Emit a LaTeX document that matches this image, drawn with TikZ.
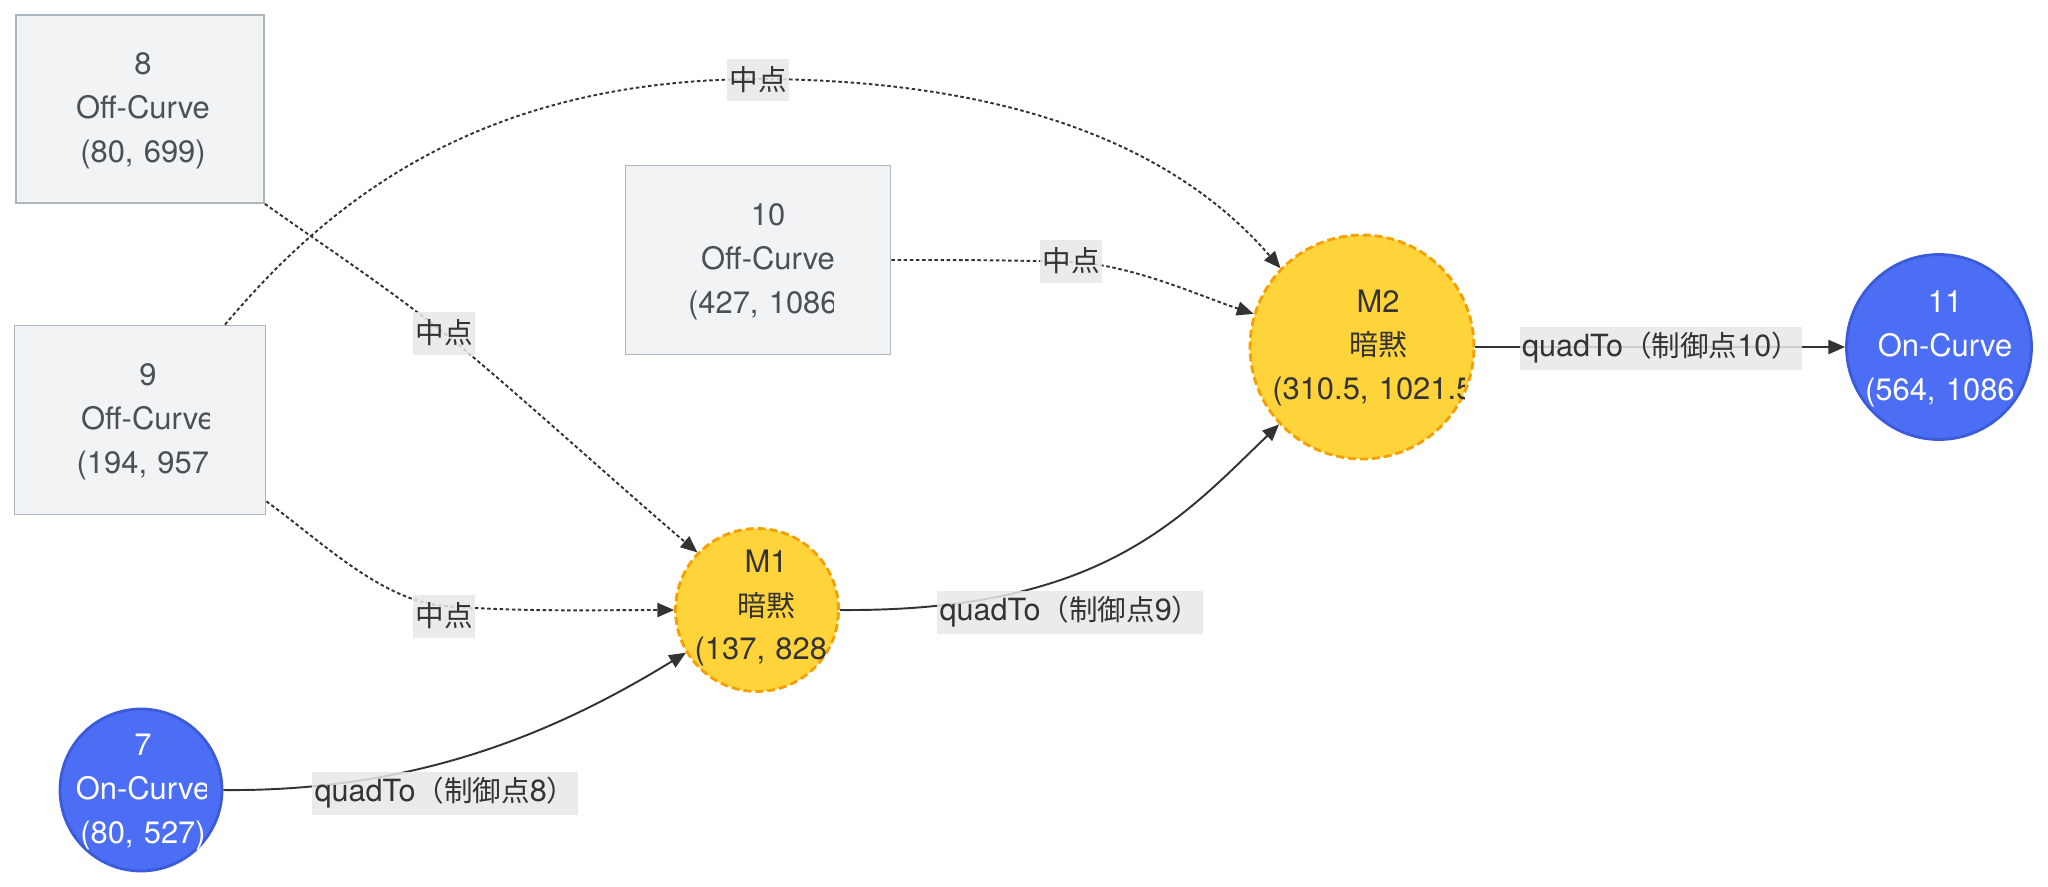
\documentclass[tikz,border=0pt]{standalone}
\usepackage{fontspec}
\setmainfont{TeX Gyre Heros}
\newfontfamily\cjk{Noto Sans CJK JP}[Scale=0.935]
\usetikzlibrary{arrows.meta,calc}
\definecolor{boxfill}{HTML}{F1F3F5}
\definecolor{boxdraw}{HTML}{ADB5BD}
\definecolor{boxtext}{HTML}{495057}
\definecolor{yel}{HTML}{FFD43B}
\definecolor{yeldraw}{HTML}{F59F00}
\definecolor{blu}{HTML}{4C6EF5}
\definecolor{bludraw}{HTML}{3B5BDB}
\definecolor{edgecol}{HTML}{333333}
\definecolor{lblbg}{HTML}{E8E8E8}
\newcommand{\cliptext}[7]{%
  \begin{scope}
    \clip (#2-#4/2,#3-90) rectangle (#5,#3+90);
    \pgfmathsetlengthmacro\tw{#4*0.02cm}
    \node[txt, text=#6, text width=\tw] (#1) at (#2,#3) {#7};
  \end{scope}}
\begin{document}
\begin{tikzpicture}[x=0.02cm,y=-0.02cm,
  txt/.style={inner sep=0pt, align=center, font=\fontsize{17.6pt}{24.9pt}\selectfont},
  offbox/.style={rectangle, fill=boxfill, draw=boxdraw, line width=1pt, inner sep=0pt},
  virt/.style={circle, fill=yel, draw=yeldraw, line width=1.6pt, dash pattern=on 4.5pt off 2.3pt, inner sep=0pt},
  oncurve/.style={circle, fill=blu, draw=bludraw, line width=1.6pt, inner sep=0pt},
  dotedge/.style={draw=edgecol, line width=1.1pt, dash pattern=on 2pt off 1.5pt, -{Triangle[length=9.5pt,width=8pt]}},
  solidedge/.style={draw=edgecol, line width=1.1pt, -{Triangle[length=9.5pt,width=8pt]}},
  lbl/.style={fill=lblbg, fill opacity=0.85, text opacity=1, text=edgecol, inner xsep=1.2pt, inner ysep=0pt, minimum height=0.86cm, font=\fontsize{17.4pt}{24.9pt}\selectfont}
]
\fill[white] (0,0) rectangle (2048,886);
\useasboundingbox (0,0) rectangle (2048,886);

% shapes
\node[offbox, minimum width=4.96cm, minimum height=3.76cm] (n8) at (140,109) {};
\node[offbox, minimum width=5.02cm, minimum height=3.78cm] (n9) at (140,420) {};
\node[offbox, minimum width=5.3cm, minimum height=3.78cm] (n10) at (758,260) {};
\node[virt, minimum size=3.26cm] (m1) at (757,610) {};
\node[virt, minimum size=4.48cm] (m2) at (1362,347) {};
\node[oncurve, minimum size=3.24cm] (n7) at (141,790) {};
\node[oncurve, minimum size=3.7cm] (n11) at (1939,347) {};

% texts (clipped as in the reference)
\cliptext{t8}{143}{111}{138}{208}{boxtext}{8\\\mbox{Off-Curve}\\\mbox{(80, 699)}}
\cliptext{t9}{148}{422}{150}{209}{boxtext}{9\\\mbox{Off-Curve}\\\mbox{(194, 957)}}
\cliptext{t10}{768}{262}{170}{833}{boxtext}{10\\\mbox{Off-Curve}\\\mbox{(427, 1086)}}
\cliptext{tm1}{766}{608}{146}{826}{edgecol}{M1\\\mbox{\cjk 暗黙}\\\mbox{(137, 828)}}
\cliptext{tm2}{1378}{348}{224}{1464}{edgecol}{M2\\\mbox{\cjk 暗黙}\\\mbox{(310.5, 1021.5)}}
\cliptext{t7}{143}{792}{136}{206}{white}{7\\\mbox{On-Curve}\\\mbox{(80, 527)}}
\cliptext{t11}{1945}{349}{168}{2013}{white}{11\\\mbox{On-Curve}\\\mbox{(564, 1086)}}

% connectors
\draw[dotedge] (n8.south east) .. controls (324,246) and (384,285) .. (444,333) .. controls (504,381) and (627,493) .. (m1.136);
\draw[dotedge] ($(n9.north)+(85,0)$) .. controls (330,200) and (480,80) .. (758,79) .. controls (1060,80) and (1200,175) .. (m2.136);
\draw[dotedge] (n10.east) .. controls (960,260) and (1010,260) .. (1071,262) .. controls (1130,264) and (1200,296) .. (m2.163);
\draw[dotedge] ($(n9.south east)+(0,-14)$) .. controls (320,540) and (380,600) .. (444,606) .. controls (520,612) and (600,610) .. (m1.west);
\draw[solidedge] (n7.east) .. controls (420,792) and (560,730) .. (m1.211);
\draw[solidedge] (m1.east) .. controls (1100,612) and (1180,520) .. (m2.223);
\draw[solidedge] (m2.east) -- (n11.west);

% labels
\node[lbl] (l1) at (444,333) {\cjk 中点};
\node[lbl] (l2) at (758,80) {\cjk 中点};
\node[lbl] (l3) at (1071,261) {\cjk 中点};
\node[lbl] (l4) at (444,616) {\cjk 中点};
\node[lbl] (l5) at (445,793) {quadTo{\cjk （制御点}8{\cjk ）}};
\node[lbl] (l6) at (1070,612) {quadTo{\cjk （制御点}9{\cjk ）}};
\node[lbl] (l7) at (1661,348) {quadTo{\cjk （制御点}10{\cjk ）}};
\end{tikzpicture}
\end{document}
